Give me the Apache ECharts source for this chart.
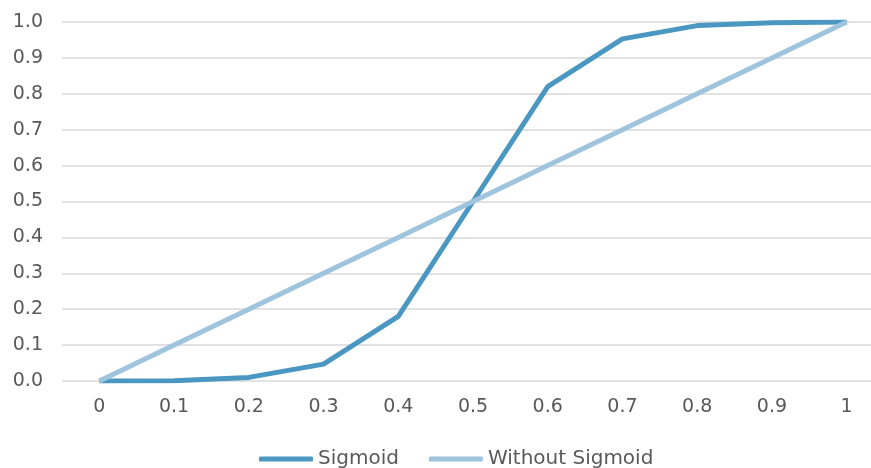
<!DOCTYPE html>
<html>
<head>
<meta charset="utf-8">
<script src="https://cdn.jsdelivr.net/npm/echarts@6/dist/echarts.min.js"></script>
<style>
  html, body { margin: 0; padding: 0; background: #fff; }
  #chart { width: 871px; height: 468px; }
</style>
</head>
<body>
<div id="chart"></div>
<script>
// x 轴类别
const xLabels = ["0", "0.1", "0.2", "0.3", "0.4", "0.5", "0.6", "0.7", "0.8", "0.9", "1"];
// 两条线的数据
const sigmoid = [0, 0.001, 0.01, 0.047, 0.18, 0.5, 0.82, 0.953, 0.99, 0.998, 1];
const withoutSigmoid = [0, 0.1, 0.2, 0.3, 0.4, 0.5, 0.6, 0.7, 0.8, 0.9, 1];

const myChart = echarts.init(document.getElementById("chart"));
const font = "DejaVu Sans, sans-serif";

let option = {
  animation: false,
  grid: {
    left: 62,
    top: 22,
    width: 822,
    bottom: 87,
    outerBoundsMode: "none",
    containLabel: false,
  },
  legend: {
    bottom: -6,
    left: 254,
    icon: "roundRect",
    itemWidth: 54,
    itemHeight: 5,
    itemGap: 30,
    textStyle: { fontFamily: font, fontSize: 20, color: "#595959" },
    data: ["Sigmoid", "Without Sigmoid"],
  },
  xAxis: {
    type: "category",
    data: xLabels,
    boundaryGap: true,
    axisLine: { show: false },
    axisTick: { show: false },
    axisLabel: {
      fontFamily: font,
      fontSize: 19,
      color: "#595959",
      margin: 17,
    },
  },
  yAxis: {
    type: "value",
    min: 0,
    max: 1,
    interval: 0.1,
    axisLabel: {
      fontFamily: font,
      fontSize: 19,
      color: "#595959",
      margin: 19,
      formatter: (v) => v.toFixed(1),
    },
    splitLine: { lineStyle: { color: "#d9d9d9", width: 1.5 } },
  },
  series: [
    {
      name: "Sigmoid",
      type: "line",
      data: sigmoid,
      symbol: "none",
      color: "#4a97c2",
      lineStyle: { width: 5, color: "#4a97c2" },
      z: 3,
    },
    {
      name: "Without Sigmoid",
      type: "line",
      data: withoutSigmoid,
      symbol: "none",
      color: "#9fc4de",
      lineStyle: { width: 5, color: "#9fc4de" },
      z: 4,
    },
  ],
};
myChart.setOption(option);
</script>
</body>
</html>
